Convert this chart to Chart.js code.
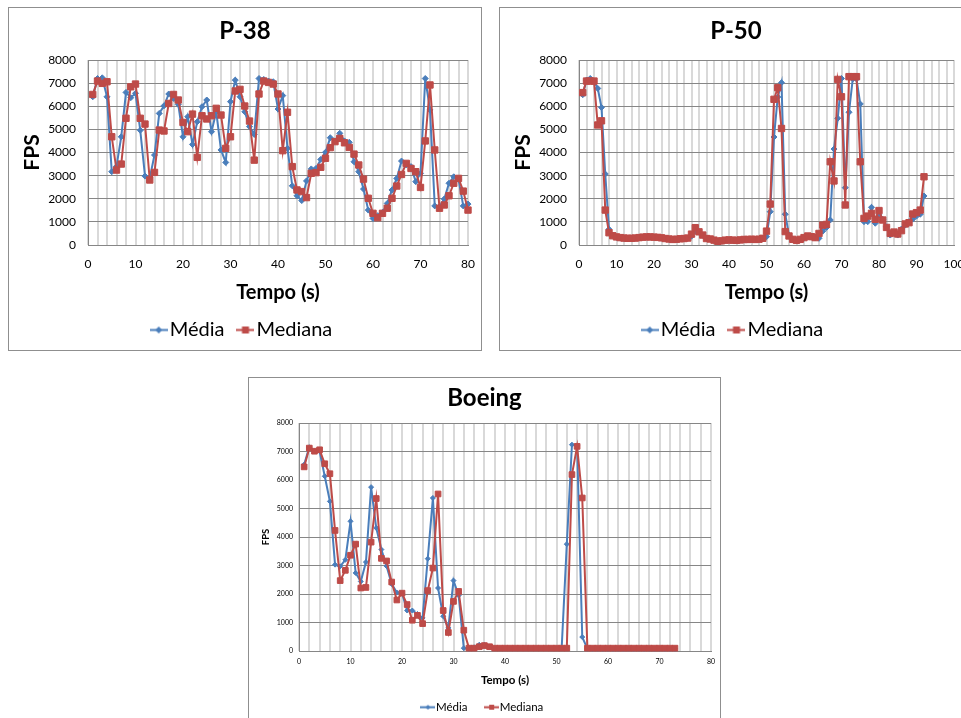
<!DOCTYPE html>
<html>
<head>
<meta charset="utf-8">
<script src="https://cdn.jsdelivr.net/npm/chart.js@4.4.1/dist/chart.umd.min.js"></script>
<style>
  html, body { margin:0; padding:0; background:#fff; width:961px; height:718px; overflow:hidden; }
  .box { position:absolute; border:1px solid #8f8f8f; background:#fff; }
  .box canvas { display:block; }
</style>
</head>
<body>
<div class="box" style="left:8px;top:7px;"><canvas id="cP38" width="472" height="342"></canvas></div>
<div class="box" style="left:499px;top:7px;"><canvas id="cP50" width="472" height="342"></canvas></div>
<div class="box" style="left:248px;top:377px;"><canvas id="cBoeing" width="471" height="345"></canvas></div>
<script>
// DATA (FPS per second, series start at t = 1 s)
const p38Media = [6410,7200,7230,6410,3170,3400,4680,6600,6370,6560,
  4960,2980,2900,3890,5690,6020,6530,6340,6080,4680,
  5550,4350,5330,5980,6270,4900,5760,4110,3570,6200,
  7130,6410,5760,5120,4780,7200,7160,7090,7060,5880,
  6460,4180,2560,2130,1920,2770,3290,3310,3700,4010,
  4640,4500,4830,4500,4440,3600,3170,2420,1510,1150,
  1270,1410,1800,2380,2880,3630,3460,3390,2740,3100,
  7200,5840,1690,1660,1990,2670,2950,2850,1690,1770];
const p38Mediana = [6510,7090,6990,7060,4680,3240,3500,5480,6840,6960,
  5480,5230,2810,3140,4970,4930,6120,6510,6270,5300,
  4900,5660,3790,5590,5450,5590,5910,5620,4180,4680,
  6660,6730,6010,5360,3670,6530,7090,7030,6960,6530,
  4080,5740,3390,2380,2310,2050,3100,3130,3360,3750,
  4210,4470,4610,4420,4220,3930,3460,2850,2020,1370,
  1180,1370,1590,2020,2550,3050,3530,3310,3170,2490,
  4500,6920,4110,1590,1730,2130,2670,2880,2330,1510];

const p50Media = [6500,7130,7200,7090,6770,5950,3070,680,430,330,
  300,280,280,280,290,310,330,340,340,330,
  320,300,270,250,230,240,260,270,290,380,
  600,560,420,270,250,200,150,170,200,210,
  200,190,210,230,230,240,230,240,280,360,
  1440,4670,6400,7020,1330,430,250,200,230,300,
  370,350,310,290,600,760,1080,4150,5480,7200,
  2480,5740,7180,7180,6100,1010,1010,1630,940,1300,
  1110,790,430,560,430,690,860,1010,1120,1250,
  1330,2120];
const p50Mediana = [6590,7090,7090,7090,5190,5370,1510,530,400,350,
  320,300,290,290,300,320,340,350,350,340,
  330,310,280,260,240,250,270,280,300,470,
  750,570,430,280,260,210,160,180,210,220,
  210,200,220,240,240,250,240,250,290,600,
  1770,6300,6800,5040,580,390,245,200,245,320,
  390,360,320,500,860,890,3600,2770,7160,6410,
  1730,7280,7280,7280,3600,1150,1250,1370,1110,1490,
  1080,760,500,560,475,620,910,965,1340,1400,
  1510,2950];

const boeingMedia = [6540,7150,7010,7010,6130,5250,3030,2970,3200,4550,
  2740,2440,3120,5750,4320,3560,2980,2350,2050,2030,
  1420,1420,1300,1160,3240,5370,2210,1220,810,2470,
  1950,100,80,130,220,220,160,90,90,90,
  90,90,90,90,90,90,90,90,90,90,
  90,3750,7240,7200,490,80,80,80,80,80,
  80,80,80,80,80,80,80,80,80,80,
  80,80,80];
const boeingMediana = [6460,7120,7010,7060,6570,6220,4230,2470,2830,3360,
  3750,2210,2230,3820,5350,3250,3160,2420,1790,2030,
  1630,1080,1250,960,2120,2910,5510,1420,650,1740,
  2090,730,100,100,150,190,150,100,100,100,
  100,100,100,100,100,100,100,100,100,100,
  100,100,6190,7180,5370,100,100,100,100,100,
  100,100,100,100,100,100,100,100,100,100,
  100,100,100];

const yTicks = [0,1000,2000,3000,4000,5000,6000,7000,8000];
const seriesNames = ['Média','Mediana'];

// STYLE
const FONT = "Lato, 'Open Sans', sans-serif";
const BLUE = '#4a7ebb', RED = '#be4b48';

// legend symbol: short line with the marker in the middle
function legendSymbol(color, shape, w, lw, size) {
  const c = document.createElement('canvas');
  c.width = w; c.height = Math.ceil(size * 2 + 2);
  const g = c.getContext('2d'), cy = c.height / 2;
  g.strokeStyle = color; g.lineWidth = lw;
  g.beginPath(); g.moveTo(0, cy); g.lineTo(w, cy); g.stroke();
  g.fillStyle = color;
  if (shape === 'diamond') {
    g.beginPath();
    g.moveTo(w/2, cy - size); g.lineTo(w/2 + size, cy);
    g.lineTo(w/2, cy + size); g.lineTo(w/2 - size, cy);
    g.closePath(); g.fill();
  } else {
    g.fillRect(w/2 - size, cy - size, size * 2, size * 2);
  }
  return c;
}

function buildChart(id, title, xMax, media, mediana, s) {
  const pts = arr => arr.map((v, i) => ({ x: i + 1, y: v }));
  const symA = legendSymbol(BLUE, 'diamond', s.symW, s.lw, s.symDia);
  const symB = legendSymbol(RED, 'square', s.symW, s.lw, s.symSq);
  return new Chart(document.getElementById(id), {
    type: 'line',
    data: { datasets: [
      { label: seriesNames[0], data: pts(media), borderColor: BLUE, backgroundColor: BLUE,
        borderWidth: s.lw, pointStyle: 'rectRot', pointRadius: s.dia, pointBorderWidth: 1,
        pointBorderColor: BLUE, pointBackgroundColor: BLUE, tension: 0, order: 1, clip: false },
      { label: seriesNames[1], data: pts(mediana), borderColor: RED, backgroundColor: RED,
        borderWidth: s.lw, pointStyle: 'rect', pointRadius: s.sq, pointBorderWidth: 1,
        pointBorderColor: RED, pointBackgroundColor: RED, tension: 0, order: 0, clip: false }
    ]},
    options: {
      responsive: false, animation: false,
      layout: { padding: 0 },
      plugins: {
        title: { display: true, text: title, color: '#000',
          font: { family: FONT, size: s.titleSize, weight: 'bold' },
          padding: { top: s.titleTop, bottom: s.titleBottom } },
        legend: { position: 'bottom',
          labels: { usePointStyle: true, pointStyleWidth: s.psw, padding: s.legPad, color: '#000',
            font: { family: FONT, size: s.legSize },
            generateLabels: () => [
              { text: seriesNames[0], pointStyle: symA, fillStyle: BLUE, strokeStyle: BLUE, lineWidth: 0, hidden: false, datasetIndex: 0, fontColor: '#000' },
              { text: seriesNames[1], pointStyle: symB, fillStyle: RED, strokeStyle: RED, lineWidth: 0, hidden: false, datasetIndex: 1, fontColor: '#000' }
            ] } },
        tooltip: { enabled: false }
      },
      scales: {
        x: { type: 'linear', min: 0, max: xMax,
          afterFit: sc => { sc.height = s.xH; sc.paddingRight = s.padR; },
          ticks: { stepSize: 2, maxTicksLimit: 200, autoSkip: false, maxRotation: 0,
            padding: s.xTickPad, color: '#000', font: { family: FONT, size: s.tickSize },
            callback: v => (v % 10 === 0 ? String(v) : '') },
          grid: { color: '#d9d9d9', lineWidth: 2, drawTicks: false },
          border: { color: '#868686', width: 1 },
          title: { display: true, text: 'Tempo (s)', color: '#000',
            font: { family: FONT, size: s.axSize, weight: 'bold' },
            padding: { top: 0, bottom: s.xTitleBottom } } },
        y: { min: 0, max: 8000,
          afterFit: sc => { sc.width = s.yW; },
          afterBuildTicks: sc => { sc.ticks = yTicks.map(v => ({ value: v })); },
          ticks: { padding: s.yTickPad, color: '#000', font: { family: FONT, size: s.tickSize },
            callback: v => String(v) },
          grid: { color: '#868686', lineWidth: 1, drawTicks: false },
          border: { color: '#868686', width: 1 },
          title: { display: true, text: 'FPS', color: '#000',
            font: { family: FONT, size: s.fpsSize, weight: 'bold' },
            padding: { top: s.yTitleTop, bottom: 0 } } }
      }
    }
  });
}

const bigStyle = {
  lw: 2, dia: 3, sq: 4.5,
  titleSize: 24, titleTop: 8.6, titleBottom: 14.6,
  legSize: 20, legPad: 20, psw: 2, symW: 18, symDia: 3.5, symSq: 3.5,
  xH: 55, padR: 13, xTickPad: 12, tickSize: 12, axSize: 20, xTitleBottom: -5,
  yW: 79, yTickPad: 12, fpsSize: 21, yTitleTop: 11
};

buildChart('cP38', 'P-38', 80, p38Media, p38Mediana, bigStyle);
buildChart('cP50', 'P-50', 100, p50Media, p50Mediana, Object.assign({}, bigStyle, { padR: 18 }));
buildChart('cBoeing', 'Boeing', 80, boeingMedia, boeingMediana, {
  lw: 2, dia: 2.5, sq: 4,
  titleSize: 24, titleTop: 6.1, titleBottom: 10.1,
  legSize: 11.5, legPad: 22, psw: 4.5, symW: 15, symDia: 2.5, symSq: 2.5,
  xH: 28.5, padR: 9, xTickPad: 7, tickSize: 7, axSize: 11.5, xTitleBottom: -7.4,
  yW: 50, yTickPad: 6, fpsSize: 9.5, yTitleTop: 11
});
</script>
</body>
</html>
